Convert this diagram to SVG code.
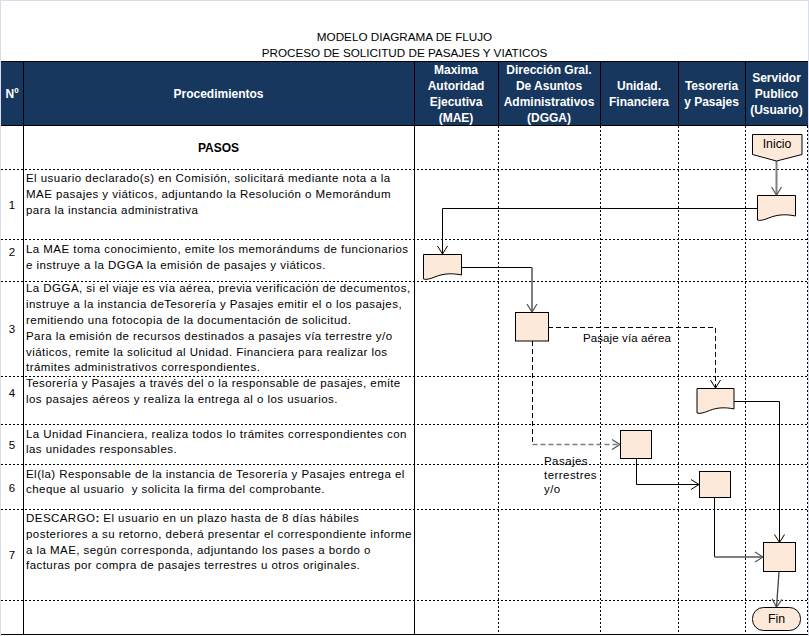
<svg xmlns="http://www.w3.org/2000/svg" width="809" height="636" viewBox="0 0 809 636">
<defs>
<style>
.title{font-family:"Liberation Sans",Arial,sans-serif;font-size:11.7px;fill:#000;text-anchor:middle}
.hd{font-family:"Liberation Sans",Arial,sans-serif;font-size:12px;font-weight:bold;fill:#fff;text-anchor:middle}
.tx{font-family:"Liberation Sans",Arial,sans-serif;font-size:11.5px;letter-spacing:0.45px;fill:#000;white-space:pre}
.num{font-family:"Liberation Sans",Arial,sans-serif;font-size:11.5px;fill:#000;text-anchor:middle}
.pasos{font-family:"Liberation Sans",Arial,sans-serif;font-size:12px;font-weight:bold;fill:#000;text-anchor:middle}
.nt{font-family:"Liberation Sans",Arial,sans-serif;font-size:12.3px;fill:#000;text-anchor:middle}
.solid{stroke:#000;stroke-width:1;fill:none}
.dot{stroke:#000;stroke-width:1;stroke-dasharray:2 2;fill:none}
.node{fill:#FDE9D9;stroke:#000;stroke-width:1}
.c{fill:none;stroke:#000;stroke-width:1}
.cg{fill:none;stroke:#7f7f7f;stroke-width:2}
.dash{stroke-dasharray:5 3}
.frame{fill:#D9DCEB}
</style>
<marker id="ah" markerUnits="userSpaceOnUse" markerWidth="12" markerHeight="12" refX="9" refY="6" orient="auto">
<path d="M1,1 L9,6 L1,11" fill="none" stroke="#000" stroke-width="1"/>
</marker>
<marker id="ahg" markerUnits="userSpaceOnUse" markerWidth="12" markerHeight="12" refX="9" refY="6" orient="auto">
<path d="M1,1 L9,6 L1,11" fill="none" stroke="#555" stroke-width="1.2"/>
</marker>
</defs>
<rect x="0" y="0" width="809" height="636" fill="#fff"/>
<g id="frame">
<rect class="frame" x="0" y="0" width="809" height="1"/>
<rect class="frame" x="0" y="0" width="1" height="636"/>
<rect class="frame" x="808" y="0" width="1" height="636"/>
</g>
<g id="title">
<text class="title" x="404.5" y="40.7">MODELO DIAGRAMA DE FLUJO</text>
<text class="title" x="404.5" y="56.5">PROCESO DE SOLICITUD DE PASAJES Y VIATICOS</text>
</g>
<g id="table">
<rect x="1" y="61" width="807" height="64" fill="#17375E"/>
<path class="solid" d="M1,61.5 H808 M23.5,61 V635 M414.5,61 V635 M498.5,61 V125 M600.5,61 V125 M678.5,61 V125 M745.5,61 V125 M1,125.5 H808 M1,634.5 H808"/>
<path class="dot" d="M498.5,126 V634 M600.5,126 V634 M678.5,126 V634 M745.5,126 V634 M807.5,126 V634"/>
<path class="dot" d="M1,169.5 H808 M1,239.5 H808 M1,281.5 H808 M1,376.5 H808 M1,424.5 H808 M1,464.5 H808 M1,509.5 H808 M1,600.5 H808"/>
<text class="hd" x="12" y="98">Nº</text>
<text class="hd" x="218.5" y="98">Procedimientos</text>
<text class="hd" x="456" y="74">Maxima</text>
<text class="hd" x="456" y="90">Autoridad</text>
<text class="hd" x="456" y="106">Ejecutiva</text>
<text class="hd" x="456" y="122">(MAE)</text>
<text class="hd" x="549" y="74">Dirección Gral.</text>
<text class="hd" x="549" y="90">De Asuntos</text>
<text class="hd" x="549" y="106">Administrativos</text>
<text class="hd" x="549" y="122">(DGGA)</text>
<text class="hd" x="639" y="90">Unidad.</text>
<text class="hd" x="639" y="106">Financiera</text>
<text class="hd" x="711.5" y="90">Tesorería</text>
<text class="hd" x="711.5" y="106">y Pasajes</text>
<text class="hd" x="776.5" y="82">Servidor</text>
<text class="hd" x="776.5" y="98">Publico</text>
<text class="hd" x="776.5" y="114">(Usuario)</text>
<text class="pasos" x="218.5" y="152">PASOS</text>
<text class="num" x="12" y="209">1</text>
<text class="tx" x="26" y="182">El usuario declarado(s) en Comisión, solicitará mediante nota a la</text>
<text class="tx" x="26" y="198">MAE pasajes y viáticos, adjuntando la Resolución o Memorándum</text>
<text class="tx" x="26" y="214">para la instancia administrativa</text>
<text class="num" x="12" y="256">2</text>
<text class="tx" x="26" y="253">La MAE toma conocimiento, emite los memorándums de funcionarios</text>
<text class="tx" x="26" y="269">e instruye a la DGGA la emisión de pasajes y viáticos.</text>
<text class="num" x="12" y="333">3</text>
<text class="tx" x="26" y="291.5">La DGGA, si el viaje es vía aérea, previa verificación de decumentos,</text>
<text class="tx" x="26" y="307.5">instruye a la instancia deTesorería y Pasajes emitir el o los pasajes,</text>
<text class="tx" x="26" y="323.5">remitiendo una fotocopia de la documentación de solicitud.</text>
<text class="tx" x="26" y="339.5">Para la emisión de recursos destinados a pasajes vía terrestre y/o</text>
<text class="tx" x="26" y="355.5">viáticos, remite la solicitud al Unidad. Financiera para realizar los</text>
<text class="tx" x="26" y="371">trámites administrativos correspondientes.</text>
<text class="num" x="12" y="397">4</text>
<text class="tx" x="26" y="387">Tesorería y Pasajes a través del o la responsable de pasajes, emite</text>
<text class="tx" x="26" y="403">los pasajes aéreos y realiza la entrega al o los usuarios.</text>
<text class="num" x="12" y="449">5</text>
<text class="tx" x="26" y="438">La Unidad Financiera, realiza todos lo trámites correspondientes con</text>
<text class="tx" x="26" y="453">las unidades responsables.</text>
<text class="num" x="12" y="492">6</text>
<text class="tx" x="26" y="478">El(la) Responsable de la instancia de Tesorería y Pasajes entrega el</text>
<text class="tx" x="26" y="493">cheque al usuario  y solicita la firma del comprobante.</text>
<text class="num" x="12" y="559">7</text>
<text class="tx" x="26" y="522">DESCARGO<tspan font-weight="bold">:</tspan> El usuario en un plazo hasta de 8 días hábiles</text>
<text class="tx" x="26" y="538">posteriores a su retorno, deberá presentar el correspondiente informe</text>
<text class="tx" x="26" y="553.5">a la MAE, según corresponda, adjuntando los pases a bordo o</text>
<text class="tx" x="26" y="569">facturas por compra de pasajes terrestres u otros originales.</text>
</g>
<g id="connectors">
<path class="cg" d="M776.5,161 V195" marker-end="url(#ahg)"/>
<path class="c" d="M757,208.5 H442.5 V254" marker-end="url(#ah)"/>
<path class="c" d="M462,267.5 H532"/>
<path class="cg" d="M532,267.5 V312" marker-end="url(#ahg)"/>
<path class="c dash" d="M548,327.5 H715.5 V388" marker-end="url(#ah)"/>
<path class="c dash" d="M532.5,341 V444.5"/>
<path class="c dash" d="M532.5,444.5 H620" style="stroke:#7f7f7f;stroke-width:1.5" marker-end="url(#ahg)"/>
<path class="c" d="M734,401.5 H779.5 V542.5" marker-end="url(#ah)"/>
<path class="c" d="M636.5,458 V484.5 H699" marker-end="url(#ah)"/>
<path class="c" d="M714.5,497 V557"/>
<path class="cg" d="M714.5,557 H763" marker-end="url(#ahg)"/>
<path class="c" d="M779,572 L776.5,607" style="stroke:#444;stroke-width:1.3" marker-end="url(#ahg)"/>
<text class="tx" x="583" y="342" style="letter-spacing:0.1px">Pasaje vía aérea</text>
<text class="tx" x="544" y="465">Pasajes</text>
<text class="tx" x="544" y="479">terrestres</text>
<text class="tx" x="544" y="493">y/o</text>
</g>
<g id="node-inicio">
<polygon class="node" points="752.5,134.5 802,134.5 802,154.5 776.5,161 752.5,154.5"/>
<text class="nt" x="777" y="148">Inicio</text>
</g>
<g id="node-doc-usuario">
<path class="node" d="M757.5,195.5 H795.5 V216 C786,214 778,214.5 770,217.5 C764,220 760,221 757.5,220 Z"/>
</g>
<g id="node-doc-mae">
<path class="node" d="M423.5,254.5 H461.5 V275 C452,273 444,273.5 436,276.5 C430,279 426,280 423.5,279 Z"/>
</g>
<g id="node-dgga">
<rect class="node" x="515.5" y="312.5" width="33" height="28.5"/>
</g>
<g id="node-doc-tesoreria">
<path class="node" d="M697,388.5 H734 V409 C725,407 717,407.5 709.5,410.5 C703.5,413 699.5,414 697,413 Z"/>
</g>
<g id="node-uf">
<rect class="node" x="620.5" y="430.5" width="31" height="28"/>
</g>
<g id="node-tesoreria">
<rect class="node" x="699.5" y="471.5" width="31" height="26"/>
</g>
<g id="node-usuario-final">
<rect class="node" x="763.5" y="542.5" width="32" height="29"/>
</g>
<g id="node-fin">
<rect class="node" x="752.5" y="607.5" width="48" height="23" rx="11" ry="11"/>
<text class="nt" x="776.5" y="623">Fin</text>
</g>
</svg>
